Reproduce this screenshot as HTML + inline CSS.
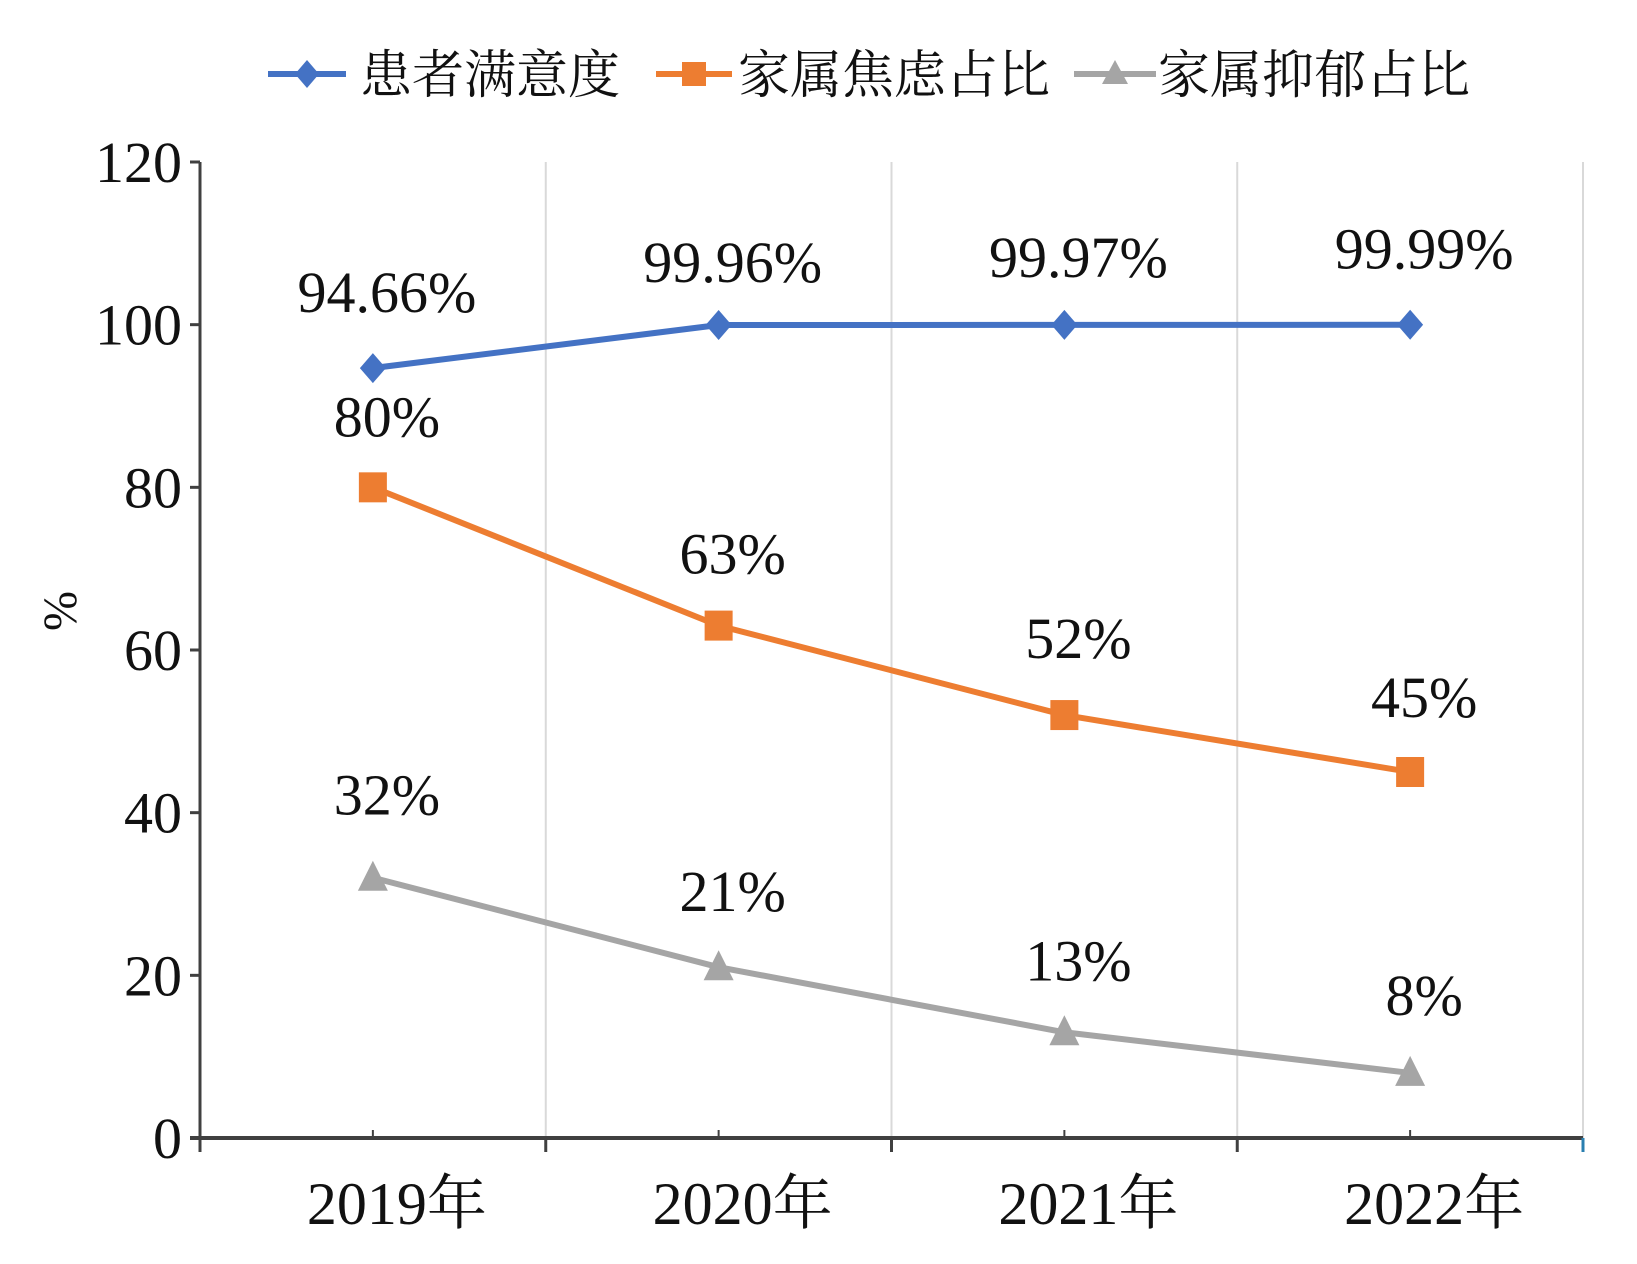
<!DOCTYPE html>
<html><head><meta charset="utf-8"><style>
html,body{margin:0;padding:0;background:#fff;}
svg text{font-family:"Liberation Serif","Noto Serif CJK SC",serif;fill:#111;}
</style></head><body>
<svg id="chart" width="1637" height="1259" viewBox="0 0 1637 1259" xmlns="http://www.w3.org/2000/svg">
<g id="legend">
  <g>
    <line x1="268" y1="74" x2="346" y2="74" stroke="#4472c4" stroke-width="6"/>
    <path d="M307 60 L319 74 L307 88 L295 74 Z" fill="#4472c4"/>
    <text x="360" y="93" font-size="52">患者满意度</text>
  </g>
  <g>
    <line x1="656" y1="74" x2="732" y2="74" stroke="#ed7d31" stroke-width="6"/>
    <rect x="682" y="62" width="24" height="24" fill="#ed7d31"/>
    <text x="738" y="93" font-size="52">家属焦虑占比</text>
  </g>
  <g>
    <line x1="1074" y1="74" x2="1156" y2="74" stroke="#a5a5a5" stroke-width="6"/>
    <path d="M1115 60 L1128 84 L1102 84 Z" fill="#a5a5a5"/>
    <text x="1158" y="93" font-size="52">家属抑郁占比</text>
  </g>
</g>
<g id="grid"></g>
<g id="axes"></g>
<g id="series"></g>
<g id="labels"></g>
<text transform="translate(76,611) rotate(-90)" text-anchor="middle" font-size="48">%</text>
</svg>
<script>
const categories = ["2019年","2020年","2021年","2022年"];
const satisfaction = [94.66, 99.96, 99.97, 99.99];
const anxiety = [80, 63, 52, 45];
const depression = [32, 21, 13, 8];
const satisfactionLabels = ["94.66%","99.96%","99.97%","99.99%"];
const anxietyLabels = ["80%","63%","52%","45%"];
const depressionLabels = ["32%","21%","13%","8%"];
const yTicks = [0,20,40,60,80,100,120];

const NS = "http://www.w3.org/2000/svg";
const X0 = 200, X1 = 1583, Y0 = 1138, Y1 = 162, YMAX = 120;
const band = (X1 - X0) / categories.length;
function xScale(i){ return X0 + band * (i + 0.5); }
function yScale(v){ return Y0 - (v / YMAX) * (Y0 - Y1); }
function mk(tag, attrs, parent){
  const e = document.createElementNS(NS, tag);
  for (const k in attrs) e.setAttribute(k, attrs[k]);
  parent.appendChild(e);
  return e;
}
const grid = document.getElementById('grid');
const axes = document.getElementById('axes');
const series = document.getElementById('series');
const labels = document.getElementById('labels');

for (let i = 1; i <= categories.length; i++) {
  const gx = X0 + band * i;
  const g = mk('line', {x1: gx, y1: Y1, x2: gx, y2: Y0, stroke: '#d9d9d9', 'stroke-width': 2}, grid);
  
  
}
yTicks.forEach(v => {
  const y = yScale(v);
  const t = mk('line', {x1: X0 - 10, y1: y, x2: X0, y2: y, stroke: '#404040', 'stroke-width': 3}, axes);
  
  
  const l = mk('text', {x: X0 - 18, y: y + 20, 'text-anchor': 'end', 'font-size': 58}, axes);
  
  
  l.textContent = v;
});
const ya = mk('line', {x1: X0, y1: Y1, x2: X0, y2: Y0, stroke: '#404040', 'stroke-width': 3}, axes);


const xa = mk('line', {x1: X0 - 10, y1: Y0, x2: X1, y2: Y0, stroke: '#404040', 'stroke-width': 4}, axes);


for (let i = 0; i <= categories.length; i++) {
  const tx = X0 + band * i;
  const t = mk('line', {x1: tx, y1: Y0, x2: tx, y2: Y0 + 14, stroke: i === categories.length ? '#2a7fb0' : '#404040', 'stroke-width': 3}, axes);
  
  
}
categories.forEach((c, i) => {
  const t = mk('line', {x1: xScale(i), y1: Y0 - 8, x2: xScale(i), y2: Y0, stroke: '#404040', 'stroke-width': 2}, axes);
  
  
  const l = mk('text', {x: xScale(i) + 24, y: Y0 + 86, 'text-anchor': 'middle', 'font-size': 60}, axes);
  
  
  l.textContent = c;
});

function drawSeries(vals, color, shape, name, labs, dyLabel){
  const pts = vals.map((v, i) => xScale(i) + ',' + yScale(v)).join(' ');
  const pl = mk('polyline', {points: pts, fill: 'none', stroke: color, 'stroke-width': 6, 'stroke-linejoin': 'round'}, series);
  
  
  vals.forEach((v, i) => {
    const x = xScale(i), y = yScale(v);
    let m;
    if (shape === 'diamond') m = mk('path', {d: `M${x} ${y-15} L${x+13} ${y} L${x} ${y+15} L${x-13} ${y} Z`, fill: color}, series);
    else if (shape === 'square') m = mk('rect', {x: x - 14, y: y - 15, width: 28, height: 30, fill: color}, series);
    else m = mk('path', {d: `M${x} ${y-17} L${x+15} ${y+13} L${x-15} ${y+13} Z`, fill: color}, series);
    
    
    const l = mk('text', {x: x + 14, y: y + dyLabel[i], 'text-anchor': 'middle', 'font-size': 58}, labels);
    
    
    l.textContent = labs[i];
  });
}
drawSeries(satisfaction, '#4472c4', 'diamond', 'satisfaction', satisfactionLabels, [-56, -43, -48, -56]);
drawSeries(anxiety, '#ed7d31', 'square', 'anxiety', anxietyLabels, [-51, -52, -57, -55]);
drawSeries(depression, '#a5a5a5', 'triangle', 'depression', depressionLabels, [-63, -56, -52, -58]);
</script>
</body></html>
